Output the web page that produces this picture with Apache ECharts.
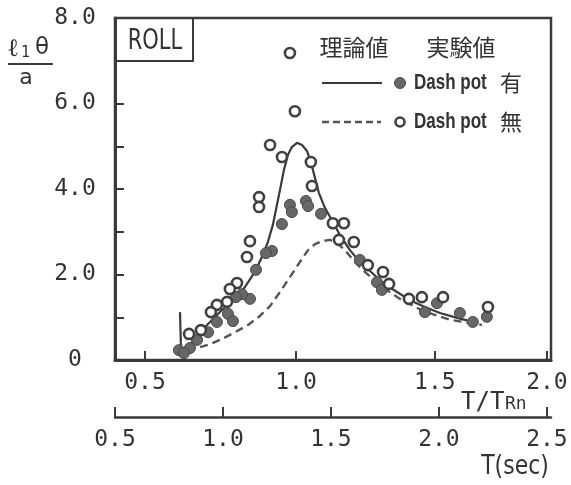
<!DOCTYPE html>
<html>
<head>
<meta charset="utf-8">
<script src="https://cdn.jsdelivr.net/npm/echarts@6/dist/echarts.min.js"></script>
<style>
html,body{margin:0;padding:0;background:#fff;}
#chart{width:571px;height:485px;}
</style>
</head>
<body>
<div id="chart"></div>
<script>
// x values are T (sec); y values are l1*theta/a
// T/TRn tick labels and their positions on the T(sec) scale
const ratioTickLabels = ['0.5', '1.0', '1.5', '2.0'];
const ratioTickPosSec = [0.639, 1.338, 1.981, 2.500];
const secTicks = [0.5, 1.0, 1.5, 2.0, 2.5];
const yTicks = [0, 1, 2, 3, 4, 5, 6, 7, 8];

// theory, Dash pot 有 (solid)
const theoryWith = [
  [0.801, 1.12], [0.806, 0.19], [0.847, 0.35], [0.884, 0.61], [0.940, 0.89],
  [0.995, 1.17], [1.056, 1.45], [1.102, 1.71], [1.148, 2.06], [1.185, 2.46],
  [1.208, 2.76], [1.231, 3.16], [1.250, 3.63], [1.264, 3.98], [1.282, 4.44],
  [1.301, 4.80], [1.319, 4.98], [1.343, 5.08], [1.366, 5.03], [1.389, 4.89],
  [1.407, 4.63], [1.426, 4.26], [1.444, 3.91], [1.472, 3.56], [1.509, 3.23],
  [1.542, 2.92], [1.588, 2.57], [1.634, 2.29], [1.690, 2.04], [1.741, 1.80],
  [1.806, 1.59], [1.866, 1.40], [1.935, 1.24], [2.005, 1.10], [2.088, 0.98],
  [2.176, 0.87]
];
// theory, Dash pot 無 (dashed)
const theoryWithout = [
  [0.894, 0.30], [0.940, 0.37], [0.995, 0.49], [1.056, 0.65], [1.116, 0.82],
  [1.171, 1.03], [1.218, 1.26], [1.264, 1.59], [1.310, 1.94], [1.356, 2.29],
  [1.394, 2.57], [1.426, 2.71], [1.458, 2.78], [1.495, 2.81], [1.528, 2.74],
  [1.565, 2.57], [1.611, 2.29], [1.657, 2.06], [1.727, 1.75], [1.819, 1.43],
  [1.926, 1.15], [2.051, 0.94], [2.199, 0.82]
];
// experiment, Dash pot 有 (filled)
const expWith = [
  [1.310, 3.63], [1.319, 3.46], [1.384, 3.72], [1.394, 3.60], [1.273, 3.18],
  [1.454, 3.42], [1.227, 2.55], [1.199, 2.50], [1.153, 2.11], [1.125, 1.43],
  [1.088, 1.54], [1.060, 1.47], [1.023, 1.08], [1.046, 0.91], [0.972, 0.89],
  [0.931, 0.65], [0.880, 0.47], [0.847, 0.28], [0.796, 0.23], [0.819, 0.16],
  [1.634, 2.34], [1.713, 1.82], [1.736, 1.64], [1.991, 1.33], [1.935, 1.12],
  [2.097, 1.10], [2.157, 0.89], [2.222, 1.01]
];
// experiment, Dash pot 無 (open)
const expWithout = [
  [1.310, 7.18], [1.333, 5.82], [1.218, 5.03], [1.273, 4.75], [1.407, 4.63],
  [1.412, 4.07], [1.167, 3.81], [1.167, 3.58], [1.509, 3.20], [1.560, 3.20],
  [1.537, 2.81], [1.606, 2.76], [1.671, 2.22], [1.741, 2.06], [1.769, 1.78],
  [1.861, 1.43], [1.921, 1.47], [2.019, 1.47], [2.227, 1.24], [1.125, 2.78],
  [1.111, 2.41], [1.065, 1.80], [1.032, 1.66], [1.019, 1.36], [0.972, 1.29],
  [0.944, 1.12], [0.898, 0.70], [0.843, 0.61]
];

const INK = '#3a3a3a';
const TXT = '#333';
const MONO = '"DejaVu Sans Mono", monospace';

function ratioLabel(v) {
  let best = 0, d = 1e9;
  ratioTickPosSec.forEach((p, i) => { const dd = Math.abs(p - v); if (dd < d) { d = dd; best = i; } });
  return ratioTickLabels[best];
}

const chart = echarts.init(document.getElementById('chart'), null, {renderer: 'canvas'});
const option = {
  animation: false,
  backgroundColor: '#fff',
  grid: {left: 115, right: 20, top: 18, bottom: 125, show: true, borderColor: INK, borderWidth: 2.5, backgroundColor: 'transparent'},
  xAxis: [
    {
      type: 'value', min: 0.5, max: 2.519, position: 'bottom',
      axisLine: {show: true, onZero: false, lineStyle: {color: INK, width: 3}},
      axisTick: {show: true, inside: true, length: 9, customValues: ratioTickPosSec, lineStyle: {color: INK, width: 2}},
      axisLabel: {customValues: ratioTickPosSec, formatter: ratioLabel, margin: 12, fontSize: 23, fontFamily: MONO, color: TXT},
      splitLine: {show: false}
    },
    {
      type: 'value', min: 0.5, max: 2.519, position: 'bottom', offset: 57,
      axisLine: {show: true, onZero: false, lineStyle: {color: INK, width: 2.5}},
      axisTick: {show: true, inside: true, length: 10, customValues: secTicks, lineStyle: {color: INK, width: 2}},
      axisLabel: {customValues: secTicks, formatter: v => v.toFixed(1), margin: 12, fontSize: 23, fontFamily: MONO, color: TXT},
      splitLine: {show: false}
    }
  ],
  yAxis: {
    type: 'value', min: 0, max: 8, interval: 1,
    axisLine: {show: true, lineStyle: {color: INK, width: 3}},
    axisTick: {show: true, inside: true, length: 9, lineStyle: {color: INK, width: 2}},
    axisLabel: {
      formatter: v => (v % 2 === 0 ? (v === 0 ? '0' : v.toFixed(1)) : ''),
      align: 'center', margin: 40, fontSize: 23, fontFamily: MONO, color: TXT
    },
    splitLine: {show: false}
  },
  series: [
    {type: 'line', name: 'theoryWith', data: theoryWith, symbol: 'none', z: 2,
     lineStyle: {color: INK, width: 2.2}},
    {type: 'line', name: 'theoryWithout', data: theoryWithout, symbol: 'none', z: 2,
     lineStyle: {color: '#555', width: 2.4, type: [8, 5]}},
    {type: 'scatter', name: 'expWith', data: expWith, symbol: 'circle', symbolSize: 11, z: 3,
     itemStyle: {color: '#676767', borderColor: '#4a4a4a', borderWidth: 1, opacity: 1}},
    {type: 'scatter', name: 'expWithout', data: expWithout, symbol: 'circle', symbolSize: 10, z: 4,
     itemStyle: {color: '#fff', borderColor: '#404040', borderWidth: 2.6, opacity: 1}}
  ],
  graphic: [
    // ROLL box
    {type: 'rect', shape: {x: 115, y: 18, width: 78, height: 43}, style: {fill: 'transparent', stroke: INK, lineWidth: 2}},
    {type: 'text', x: 155, y: 42, scaleY: 1.35, originX: 0, originY: 0,
     style: {text: 'ROLL', fontSize: 21, fontFamily: '"DejaVu Sans"', fill: TXT, align: 'center', verticalAlign: 'middle'}},
    // y-axis name: l1 theta / a
    {type: 'text', x: 7, y: 49, style: {text: 'ℓ', fontSize: 25, fontFamily: '"DejaVu Serif"', fill: TXT, align: 'left', verticalAlign: 'middle'}},
    {type: 'text', x: 21, y: 53, style: {text: '1', fontSize: 15, fontFamily: MONO, fill: TXT, align: 'left', verticalAlign: 'middle'}},
    {type: 'text', x: 35, y: 48, style: {text: 'θ', fontSize: 23, fontFamily: '"DejaVu Sans"', fill: TXT, align: 'left', verticalAlign: 'middle'}},
    {type: 'line', shape: {x1: 8, y1: 64, x2: 53, y2: 64}, style: {stroke: INK, lineWidth: 2}},
    {type: 'text', x: 26, y: 78, style: {text: 'a', fontSize: 22, fontFamily: '"DejaVu Sans"', fill: TXT, align: 'center', verticalAlign: 'middle'}},
    // legend header
    {type: 'text', x: 354, y: 47, style: {text: '理論値', fontSize: 23, fontFamily: '"Noto Sans CJK JP"', fill: TXT, align: 'center', verticalAlign: 'middle'}},
    {type: 'text', x: 461, y: 47, style: {text: '実験値', fontSize: 23, fontFamily: '"Noto Sans CJK JP"', fill: TXT, align: 'center', verticalAlign: 'middle'}},
    // legend row 1
    {type: 'line', shape: {x1: 322, y1: 83, x2: 382, y2: 83}, style: {stroke: INK, lineWidth: 2.2}},
    {type: 'circle', shape: {cx: 400, cy: 83, r: 5.5}, style: {fill: '#676767', stroke: '#4a4a4a', lineWidth: 1}},
    {type: 'text', x: 414, y: 83, scaleY: 1.25, originX: 0, originY: 0,
     style: {text: 'Dash pot', fontSize: 17, fontWeight: 'bold', fontFamily: '"Liberation Sans"', fill: TXT, align: 'left', verticalAlign: 'middle'}},
    {type: 'text', x: 500, y: 83, style: {text: '有', fontSize: 22, fontFamily: '"Noto Sans CJK JP"', fill: TXT, align: 'left', verticalAlign: 'middle'}},
    // legend row 2
    {type: 'line', shape: {x1: 322, y1: 122, x2: 381, y2: 122}, style: {stroke: '#555', lineWidth: 2.4, lineDash: [7, 4]}},
    {type: 'circle', shape: {cx: 400, cy: 122, r: 4.5}, style: {fill: '#fff', stroke: '#404040', lineWidth: 2.6}},
    {type: 'text', x: 414, y: 122, scaleY: 1.25, originX: 0, originY: 0,
     style: {text: 'Dash pot', fontSize: 17, fontWeight: 'bold', fontFamily: '"Liberation Sans"', fill: TXT, align: 'left', verticalAlign: 'middle'}},
    {type: 'text', x: 500, y: 122, style: {text: '無', fontSize: 22, fontFamily: '"Noto Sans CJK JP"', fill: TXT, align: 'left', verticalAlign: 'middle'}},
    // axis names
    {type: 'text', x: 461, y: 415, style: {text: 'T/T', fontSize: 24, fontFamily: MONO, fill: TXT, align: 'left', verticalAlign: 'bottom'}},
    {type: 'text', x: 505, y: 413, style: {text: 'Rn', fontSize: 18, fontFamily: MONO, fill: TXT, align: 'left', verticalAlign: 'bottom'}},
    {type: 'text', x: 515, y: 467, scaleY: 1.2, originX: 0, originY: 0,
     style: {text: 'T(sec)', fontSize: 22, fontFamily: '"DejaVu Sans"', fill: TXT, align: 'center', verticalAlign: 'middle'}}
  ]
};
chart.setOption(option);
</script>
</body>
</html>
